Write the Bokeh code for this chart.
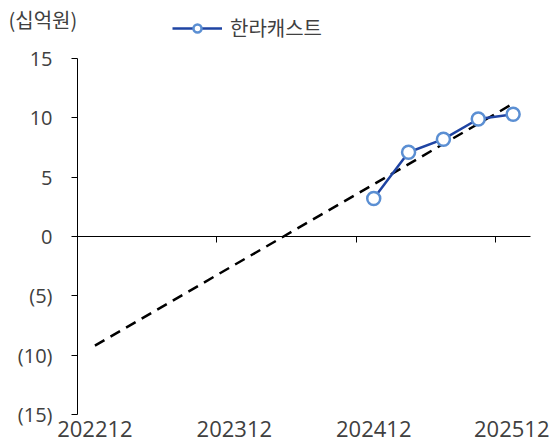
from bokeh.plotting import figure
from bokeh.models import (Range1d, FixedTicker, Legend, LegendItem, Label,
                          LinearAxis)
from bokeh.embed import file_html
from bokeh.resources import INLINE

# ---- data ----
quarters = ["202212", "202303", "202306", "202309", "202312", "202403", "202406",
            "202409", "202412", "202503", "202506", "202509", "202512"]
label_quarters = ["202212", "202312", "202412", "202512"]
series_name = "한라캐스트"
series_quarters = ["202412", "202503", "202506", "202509", "202512"]
series_values = [3.2, 7.1, 8.2, 9.9, 10.3]
trend_quarters = ["202212", "202512"]
trend_values = [-9.2, 11.2]
y_ticks = [-15, -10, -5, 0, 5, 10, 15]
y_tick_labels = ["(15)", "(10)", "(5)", "0", "5", "10", "15"]
unit_label = "(십억원)"

# ---- positions from categories ----
def center(q):
    return quarters.index(q) + 0.5

sx = [center(q) for q in series_quarters]
tx = [center(q) for q in trend_quarters]
label_x = [center(q) for q in label_quarters]
tickmark_x = [quarters.index(q) for q in label_quarters[1:]]
y_min, y_max = y_ticks[0], y_ticks[-1]
n_cat = len(quarters)

TEXT = "#404040"
LINE = "#1f44a3"
MARK = "#5b8fd3"

W, H = 549, 443
# frame covers the whole canvas; axes are pinned with fixed_location
px_x = 34.85          # pixels per category
px_y = 356 / 30       # pixels per unit
left_px, top_px = 77, 58
x0 = -left_px / px_x
x1 = x0 + W / px_x
y1 = y_max + top_px / px_y
y0 = y1 - H / px_y

p = figure(width=W, height=H, output_backend="svg", toolbar_location=None,
           x_range=Range1d(x0, x1), y_range=Range1d(y0, y1),
           x_axis_type=None, y_axis_type=None, min_border=0)
p.outline_line_color = None
p.grid.visible = False
p.background_fill_color = "white"
p.border_fill_color = "white"

# y axis at x = 0
ya = LinearAxis(fixed_location=0, bounds=(y_min, y_max),
                ticker=FixedTicker(ticks=y_ticks),
                major_label_overrides={v: s for v, s in zip(y_ticks, y_tick_labels)},
                major_tick_out=6, major_tick_in=0, minor_tick_line_color=None,
                axis_line_color="black", major_tick_line_color="black",
                major_label_text_font="Open Sans", major_label_text_font_size="20px",
                major_label_text_color=TEXT, major_label_standoff=19)
p.add_layout(ya, "left")

# category axis line at y = 0
xz = LinearAxis(fixed_location=0, bounds=(0, n_cat),
                ticker=FixedTicker(ticks=tickmark_x),
                major_label_overrides={v: "" for v in tickmark_x},
                major_tick_out=6, major_tick_in=0, minor_tick_line_color=None,
                axis_line_color="black", major_tick_line_color="black",
                major_label_text_font_size="1px")
p.add_layout(xz, "below")

# category labels at the bottom
xl = LinearAxis(fixed_location=y_min, bounds=(0, n_cat),
                ticker=FixedTicker(ticks=label_x),
                major_label_overrides={v: s for v, s in zip(label_x, label_quarters)},
                axis_line_color=None, major_tick_line_color=None,
                minor_tick_line_color=None, major_tick_out=0, major_tick_in=0,
                major_label_text_font="Open Sans", major_label_text_font_size="22px",
                major_label_text_color=TEXT, major_label_standoff=6)
p.add_layout(xl, "below")

# trend line
p.line(tx, trend_values, line_color="black", line_width=2.5, line_dash="11 7")

# series
lr = p.line(sx, series_values, line_color=LINE, line_width=2.5)
sr = p.scatter(sx, series_values, size=13, marker="circle", fill_color="white",
               line_color=MARK, line_width=2.5)

# unit label
p.add_layout(Label(x=x0 + 8 / px_x, y=y1 - 19 / px_y, text=unit_label,
                   text_font="Noto Sans CJK KR", text_font_size="20px",
                   text_color=TEXT, text_align="left", text_baseline="middle"))

legend = Legend(items=[LegendItem(label=series_name, renderers=[lr, sr])],
                location=(172, H - 42), orientation="horizontal",
                padding=0, margin=0, spacing=0,
                glyph_width=50, glyph_height=20, label_height=20,
                label_standoff=8, border_line_color=None,
                background_fill_alpha=0,
                label_text_font="Noto Sans CJK KR", label_text_font_size="20px",
                label_text_color=TEXT)
p.add_layout(legend)

open("out.html", "w").write(file_html(p, INLINE))
